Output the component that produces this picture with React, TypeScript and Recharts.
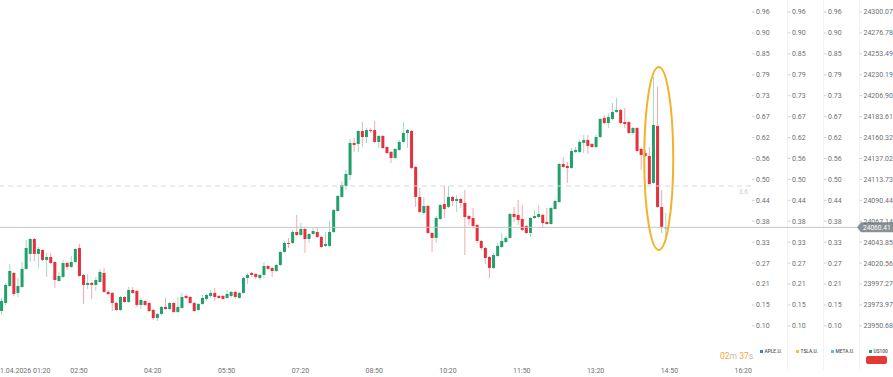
import { ComposedChart, Bar, XAxis, YAxis, ReferenceLine, ReferenceDot } from "recharts";

// 5 minute candles, first one opens at 01:15
const START_MIN = 75;
const STEP_MIN = 5;

const opens = [
  23967.3, 23976.2, 23995.1, 24009.6, 23987.4, 23994.0, 24014.1, 24030.8, 24047.4, 24030.8,
  24035.2, 24024.1, 24027.4, 24021.8, 24000.7, 24005.2, 24020.7, 24016.3, 24021.8, 24037.4,
  24007.4, 23996.3, 23998.5, 23996.3, 23999.6, 24009.6, 23988.5, 23987.4, 23976.2, 23968.4,
  23982.9, 23977.3, 23990.7, 23989.6, 23974.0, 23978.4, 23976.2, 23968.4, 23959.5, 23964.0,
  23971.8, 23969.5, 23976.2, 23966.2, 23970.7, 23984.0, 23982.9, 23976.2, 23968.4, 23975.1,
  23980.7, 23984.0, 23987.4, 23984.0, 23984.0, 23981.8, 23984.0, 23988.5, 23981.8, 23987.4,
  24004.0, 24009.6, 24008.5, 24004.0, 24007.4, 24017.4, 24015.2, 24011.8, 24018.5, 24033.0,
  24043.0, 24043.0, 24055.2, 24051.9, 24058.6, 24047.4, 24053.0, 24055.2, 24049.7, 24039.7,
  24039.7, 24055.2, 24078.6, 24094.2, 24106.4, 24118.7, 24154.3, 24153.2, 24167.6, 24160.9,
  24168.7, 24168.7, 24155.4, 24162.1, 24149.8, 24144.3, 24137.6, 24146.5, 24155.4, 24165.4,
  24167.6, 24127.6, 24094.2, 24076.4, 24084.2, 24054.1, 24048.6, 24069.7, 24086.4, 24083.1,
  24094.2, 24089.7, 24092.0, 24087.5, 24073.0, 24070.8, 24063.0, 24045.2, 24037.4, 24027.4,
  24015.2, 24028.5, 24038.5, 24044.1, 24048.6, 24075.3, 24074.2, 24069.7, 24061.9, 24054.1,
  24070.8, 24071.9, 24074.2, 24066.4, 24064.1, 24080.8, 24088.6, 24130.9, 24128.7, 24126.5,
  24144.3, 24144.3, 24154.3, 24157.6, 24153.2, 24149.8, 24160.9, 24182.1, 24176.5, 24181.0,
  24188.8, 24191.0, 24177.6, 24177.6, 24165.4, 24171.0, 24147.6, 24143.1, 24139.8, 24109.8,
  24173.2, 24083.1, 24059.7,
];

const highs = [
  23981.8, 23998.5, 24019.6, 24010.7, 24004.0, 24021.8, 24046.3, 24048.6, 24048.6, 24038.5,
  24036.3, 24031.9, 24031.9, 24023.0, 24010.7, 24024.1, 24021.8, 24028.5, 24037.4, 24041.9,
  24008.5, 24008.5, 23999.6, 24005.2, 24014.1, 24015.2, 23990.7, 23988.5, 23977.3, 23984.0,
  23984.0, 23994.0, 23994.0, 23990.7, 23981.8, 23979.6, 23977.3, 23969.5, 23965.1, 23972.9,
  23981.8, 23977.3, 23977.3, 23982.9, 23987.4, 23986.2, 23984.0, 23977.3, 23976.2, 23985.1,
  23986.2, 23990.7, 23992.9, 23985.1, 23985.1, 23990.7, 23989.6, 23989.6, 23988.5, 24005.2,
  24009.6, 24010.7, 24009.6, 24008.5, 24021.8, 24018.5, 24016.3, 24019.6, 24034.1, 24045.2,
  24048.6, 24057.5, 24074.2, 24065.2, 24059.7, 24054.1, 24059.7, 24059.7, 24050.8, 24055.2,
  24067.5, 24080.8, 24096.4, 24112.0, 24124.2, 24158.7, 24159.8, 24168.7, 24177.6, 24171.0,
  24171.0, 24178.8, 24163.2, 24163.2, 24150.9, 24145.4, 24148.7, 24157.6, 24177.6, 24169.9,
  24168.7, 24128.7, 24104.2, 24094.2, 24085.3, 24055.2, 24073.0, 24086.4, 24106.4, 24106.4,
  24095.3, 24096.4, 24093.1, 24102.0, 24074.2, 24081.9, 24064.1, 24046.3, 24038.5, 24028.5,
  24031.9, 24043.0, 24054.1, 24050.8, 24076.4, 24083.1, 24090.8, 24085.3, 24063.0, 24071.9,
  24079.7, 24085.3, 24075.3, 24081.9, 24083.1, 24090.8, 24132.0, 24138.7, 24133.1, 24148.7,
  24149.8, 24157.6, 24163.2, 24163.2, 24154.3, 24163.2, 24182.1, 24185.4, 24187.7, 24198.8,
  24204.4, 24192.1, 24193.2, 24178.8, 24172.1, 24172.1, 24148.7, 24146.5, 24149.8, 24227.7,
  24216.6, 24102.0, 24076.4,
];

const lows = [
  23962.9, 23974.0, 23994.0, 23984.0, 23982.9, 23992.9, 24012.9, 24021.8, 24023.0, 24015.2,
  24023.0, 24005.2, 24019.6, 23992.9, 23999.6, 24004.0, 24012.9, 24015.2, 24020.7, 24005.2,
  23975.1, 23991.8, 23980.7, 23989.6, 23998.5, 23987.4, 23985.1, 23967.3, 23967.3, 23967.3,
  23976.2, 23976.2, 23986.2, 23971.8, 23969.5, 23972.9, 23966.2, 23957.3, 23956.2, 23962.9,
  23968.4, 23968.4, 23965.1, 23965.1, 23969.5, 23980.7, 23975.1, 23966.2, 23967.3, 23974.0,
  23978.4, 23981.8, 23978.4, 23980.7, 23979.6, 23980.7, 23981.8, 23980.7, 23980.7, 23986.2,
  23997.4, 24005.2, 24002.9, 24001.8, 24004.0, 24012.9, 24005.2, 24010.7, 24017.4, 24031.9,
  24037.4, 24041.9, 24050.8, 24050.8, 24031.9, 24043.0, 24051.9, 24048.6, 24037.4, 24038.5,
  24038.5, 24054.1, 24077.5, 24093.1, 24102.0, 24113.1, 24144.3, 24144.3, 24149.8, 24154.3,
  24165.4, 24154.3, 24148.7, 24147.6, 24142.0, 24132.0, 24136.5, 24145.4, 24154.3, 24148.7,
  24125.3, 24083.1, 24076.4, 24074.2, 24053.0, 24033.0, 24043.0, 24068.6, 24070.8, 24081.9,
  24084.2, 24077.5, 24081.9, 24029.6, 24063.0, 24059.7, 24043.0, 24035.2, 24019.6, 24004.0,
  24014.1, 24027.4, 24037.4, 24043.0, 24047.4, 24066.4, 24063.0, 24056.3, 24053.0, 24049.7,
  24069.7, 24070.8, 24059.7, 24063.0, 24063.0, 24079.7, 24087.5, 24126.5, 24109.8, 24125.3,
  24143.1, 24143.1, 24143.1, 24142.0, 24148.7, 24148.7, 24159.8, 24175.4, 24171.0, 24179.9,
  24187.7, 24175.4, 24171.0, 24164.3, 24163.2, 24144.3, 24124.2, 24138.7, 24107.5, 24108.6,
  24081.9, 24054.1, 24043.0,
];

const closes = [
  23978.4, 23996.3, 24011.8, 23986.2, 23995.1, 24014.1, 24037.4, 24047.4, 24030.8, 24036.3,
  24024.1, 24027.4, 24020.7, 24001.8, 24006.3, 24020.7, 24016.3, 24021.8, 24036.3, 24006.3,
  23996.3, 23998.5, 23996.3, 24001.8, 24010.7, 23988.5, 23986.2, 23976.2, 23968.4, 23982.9,
  23977.3, 23990.7, 23987.4, 23974.0, 23979.6, 23974.0, 23967.3, 23959.5, 23964.0, 23971.8,
  23969.5, 23976.2, 23966.2, 23971.8, 23982.9, 23981.8, 23976.2, 23967.3, 23975.1, 23981.8,
  23985.1, 23987.4, 23982.9, 23981.8, 23980.7, 23986.2, 23988.5, 23982.9, 23987.4, 24004.0,
  24007.4, 24007.4, 24005.2, 24007.4, 24017.4, 24014.1, 24011.8, 24018.5, 24033.0, 24043.0,
  24041.9, 24055.2, 24051.9, 24058.6, 24047.4, 24053.0, 24056.3, 24049.7, 24038.5, 24041.9,
  24055.2, 24079.7, 24095.3, 24107.5, 24119.8, 24154.3, 24152.1, 24167.6, 24160.9, 24168.7,
  24167.6, 24155.4, 24162.1, 24148.7, 24143.1, 24137.6, 24147.6, 24155.4, 24165.4, 24168.7,
  24126.5, 24094.2, 24077.5, 24084.2, 24054.1, 24048.6, 24070.8, 24085.3, 24080.8, 24094.2,
  24089.7, 24092.0, 24087.5, 24071.9, 24069.7, 24061.9, 24045.2, 24037.4, 24026.3, 24015.2,
  24029.6, 24039.7, 24045.2, 24048.6, 24075.3, 24071.9, 24068.6, 24057.5, 24054.1, 24070.8,
  24073.0, 24075.3, 24065.2, 24064.1, 24081.9, 24089.7, 24130.9, 24127.6, 24126.5, 24145.4,
  24146.5, 24155.4, 24157.6, 24150.9, 24149.8, 24160.9, 24181.0, 24176.5, 24183.2, 24188.8,
  24191.0, 24176.5, 24175.4, 24165.4, 24171.0, 24145.4, 24140.9, 24139.8, 24108.6, 24174.3,
  24083.1, 24060.8, 24060.41,
];

const priceTicks = [
  24300.07, 24276.78, 24253.49, 24230.19, 24206.9, 24183.61, 24160.32, 24137.02,
  24113.73, 24090.44, 24067.14, 24043.85, 24020.56, 23997.27, 23973.97, 23950.68,
];
const ratioLabels = [
  "0.96", "0.90", "0.85", "0.79", "0.73", "0.67", "0.62", "0.56",
  "0.50", "0.44", "0.38", "0.33", "0.27", "0.21", "0.15", "0.10",
];

const timeTicks = [80, 170, 260, 350, 440, 530, 620, 710, 800, 890, 980];
const timeLabels = [
  "1.04.2026 01:20", "02:50", "04:20", "05:50", "07:20", "08:50",
  "10:20", "11:50", "13:20", "14:50", "16:20",
];

const lastPrice = 24060.41;
const markerPrice = 24106.4;
const markerLabel = "3.6";

const legendItems = [
  { name: "APLE.U.", color: "#2f7ff0" },
  { name: "TSLA.U.", color: "#f6c12b" },
  { name: "META.U.", color: "#58bdf5" },
  { name: "US100", color: "#1ea463" },
];

const Y_DOMAIN = [23935.0, 24313.4];
const X_DOMAIN = [73.66, 989.5];

const UP = "#22a06b";
const DOWN = "#e5303e";
const WICK_UP = "#a9d8c0";
const WICK_DOWN = "#f2aab0";
const TEXT = "#6f6f6f";

const data = opens.map((o, i) => ({
  t: START_MIN + i * STEP_MIN,
  o,
  h: highs[i],
  l: lows[i],
  c: closes[i],
}));

function Candle(props: any) {
  const { x, y, width, height, payload } = props;
  if (!payload) return null;
  const top = Math.min(y, y + height);
  const span = Math.abs(height);
  const { o, h, l, c } = payload;
  const py = (v: number) => (h === l ? top : top + ((h - v) / (h - l)) * span);
  const up = c >= o;
  const cx = x + width / 2;
  const bTop = py(Math.max(o, c));
  const bBot = py(Math.min(o, c));
  return (
    <g>
      <line x1={cx} x2={cx} y1={top} y2={top + span} stroke={up ? WICK_UP : WICK_DOWN} strokeWidth={1} />
      <rect x={x} y={bTop} width={width} height={Math.max(1, bBot - bTop)} fill={up ? UP : DOWN} />
    </g>
  );
}

function SideTick(props: any) {
  const { x, y, payload, ratio } = props;
  const i = priceTicks.indexOf(payload.value);
  const text = ratio ? ratioLabels[i] : Number(payload.value).toFixed(2);
  return (
    <g>
      <line x1={x + 1} x2={x + 3.5} y1={y} y2={y} stroke="#cfcfcf" strokeWidth={1} />
      <text x={x + 5} y={y} dy="0.35em" fontSize={7} fill={TEXT} textAnchor="start">
        {text}
      </text>
    </g>
  );
}

function TimeTick(props: any) {
  const { x, y, payload } = props;
  const i = timeTicks.indexOf(payload.value);
  const first = i === 0;
  return (
    <text x={first ? 0 : x} y={y + 31} dy="0.35em" fontSize={7} fill={TEXT} textAnchor={first ? "start" : "middle"}>
      {timeLabels[i]}
    </text>
  );
}

function LastPriceLine(props: any) {
  const { x1, x2, y1 } = props;
  const left = Math.min(x1, x2);
  const end = Math.max(x1, x2) + 107;
  return (
    <g>
      <line x1={left} x2={end} y1={y1} y2={y1} stroke="#c6c6c6" strokeWidth={1} />
      <path
        d={`M${end - 1},${y1} L${end + 3},${y1 - 5} L${end + 36},${y1 - 5} L${end + 36},${y1 + 5} L${end + 3},${y1 + 5} Z`}
        fill="#8a9096"
      />
      <text x={end + 5} y={y1} dy="0.35em" fontSize={6.6} fill="#fff">
        {lastPrice.toFixed(2)}
      </text>
    </g>
  );
}

function Ellipse(props: any) {
  const { cx, cy } = props;
  return <ellipse cx={cx} cy={cy} rx={14.5} ry={91.5} fill="none" stroke="#f4b12a" strokeWidth={2} />;
}

export default function App() {
  return (
    <div
      style={{
        position: "absolute",
        left: 0,
        top: 0,
        width: 893,
        height: 377,
        background: "#fff",
        overflow: "hidden",
        fontFamily: "Roboto, sans-serif",
      }}
    >
      {[787, 823, 859].map(left => (
        <div key={left} style={{ position: "absolute", left, top: 0, width: 1, height: 370, background: "#f3f3f3" }} />
      ))}

      <ComposedChart
        width={893}
        height={377}
        data={data}
        margin={{ top: 0, right: 0, bottom: 0, left: 0 }}
        style={{ fontFamily: "Roboto, sans-serif" }}
      >
        <XAxis
          dataKey="t"
          type="number"
          domain={X_DOMAIN}
          allowDataOverflow
          ticks={timeTicks}
          tick={<TimeTick />}
          tickSize={0}
          tickMargin={0}
          axisLine={false}
          tickLine={false}
          height={37}
          interval={0}
        />
        <YAxis yAxisId="a1" orientation="right" type="number" width={36} domain={Y_DOMAIN} allowDataOverflow ticks={priceTicks} tick={<SideTick ratio />} tickSize={0} tickMargin={0} axisLine={false} tickLine={false} interval={0} />
        <YAxis yAxisId="a2" orientation="right" type="number" width={36} domain={Y_DOMAIN} allowDataOverflow ticks={priceTicks} tick={<SideTick ratio />} tickSize={0} tickMargin={0} axisLine={false} tickLine={false} interval={0} />
        <YAxis yAxisId="a3" orientation="right" type="number" width={35.5} domain={Y_DOMAIN} allowDataOverflow ticks={priceTicks} tick={<SideTick ratio />} tickSize={0} tickMargin={0} axisLine={false} tickLine={false} interval={0} />
        <YAxis yAxisId="a4" orientation="right" type="number" width={34.5} domain={Y_DOMAIN} allowDataOverflow ticks={priceTicks} tick={<SideTick />} tickSize={0} tickMargin={0} axisLine={false} tickLine={false} interval={0} />

        <ReferenceLine
          yAxisId="a4"
          y={markerPrice}
          stroke="#cfdbe3"
          strokeDasharray="5 4"
          label={{ value: markerLabel, position: "insideTopRight", fill: "#cdcdcd", fontSize: 6.5, offset: 3 }}
        />
        <ReferenceLine yAxisId="a4" y={lastPrice} shape={(p: any) => <LastPriceLine {...p} />} />

        <Bar
          yAxisId="a4"
          dataKey={(d: any) => [d.l, d.h]}
          barSize={3}
          shape={(p: any) => <Candle {...p} />}
          isAnimationActive={false}
        />

        <ReferenceDot yAxisId="a4" x={877} y={24137} r={1} shape={(p: any) => <Ellipse {...p} />} />
      </ComposedChart>

      <div style={{ position: "absolute", left: 720, top: 350, fontSize: 8.5, lineHeight: "12px", whiteSpace: "nowrap" }}>
        <span style={{ color: "#f7a23a" }}>02</span>
        <span style={{ color: "#c8b8a8" }}>m </span>
        <span style={{ color: "#f7a23a" }}>37</span>
        <span style={{ color: "#b5b5b5" }}>s</span>
      </div>

      {legendItems.map((item, i) => (
        <div
          key={item.name}
          style={{
            position: "absolute",
            left: [760, 796, 831, 869][i],
            top: 349,
            display: "flex",
            alignItems: "center",
            gap: 1.5,
            fontSize: 4.8,
            fontWeight: 500,
            color: "#555",
            whiteSpace: "nowrap",
          }}
        >
          <span style={{ width: 3, height: 3, background: item.color, display: "inline-block" }} />
          {item.name}
        </div>
      ))}
      <div style={{ position: "absolute", left: 866, top: 356, width: 21, height: 8, borderRadius: 2, background: "#e53935" }} />
    </div>
  );
}
